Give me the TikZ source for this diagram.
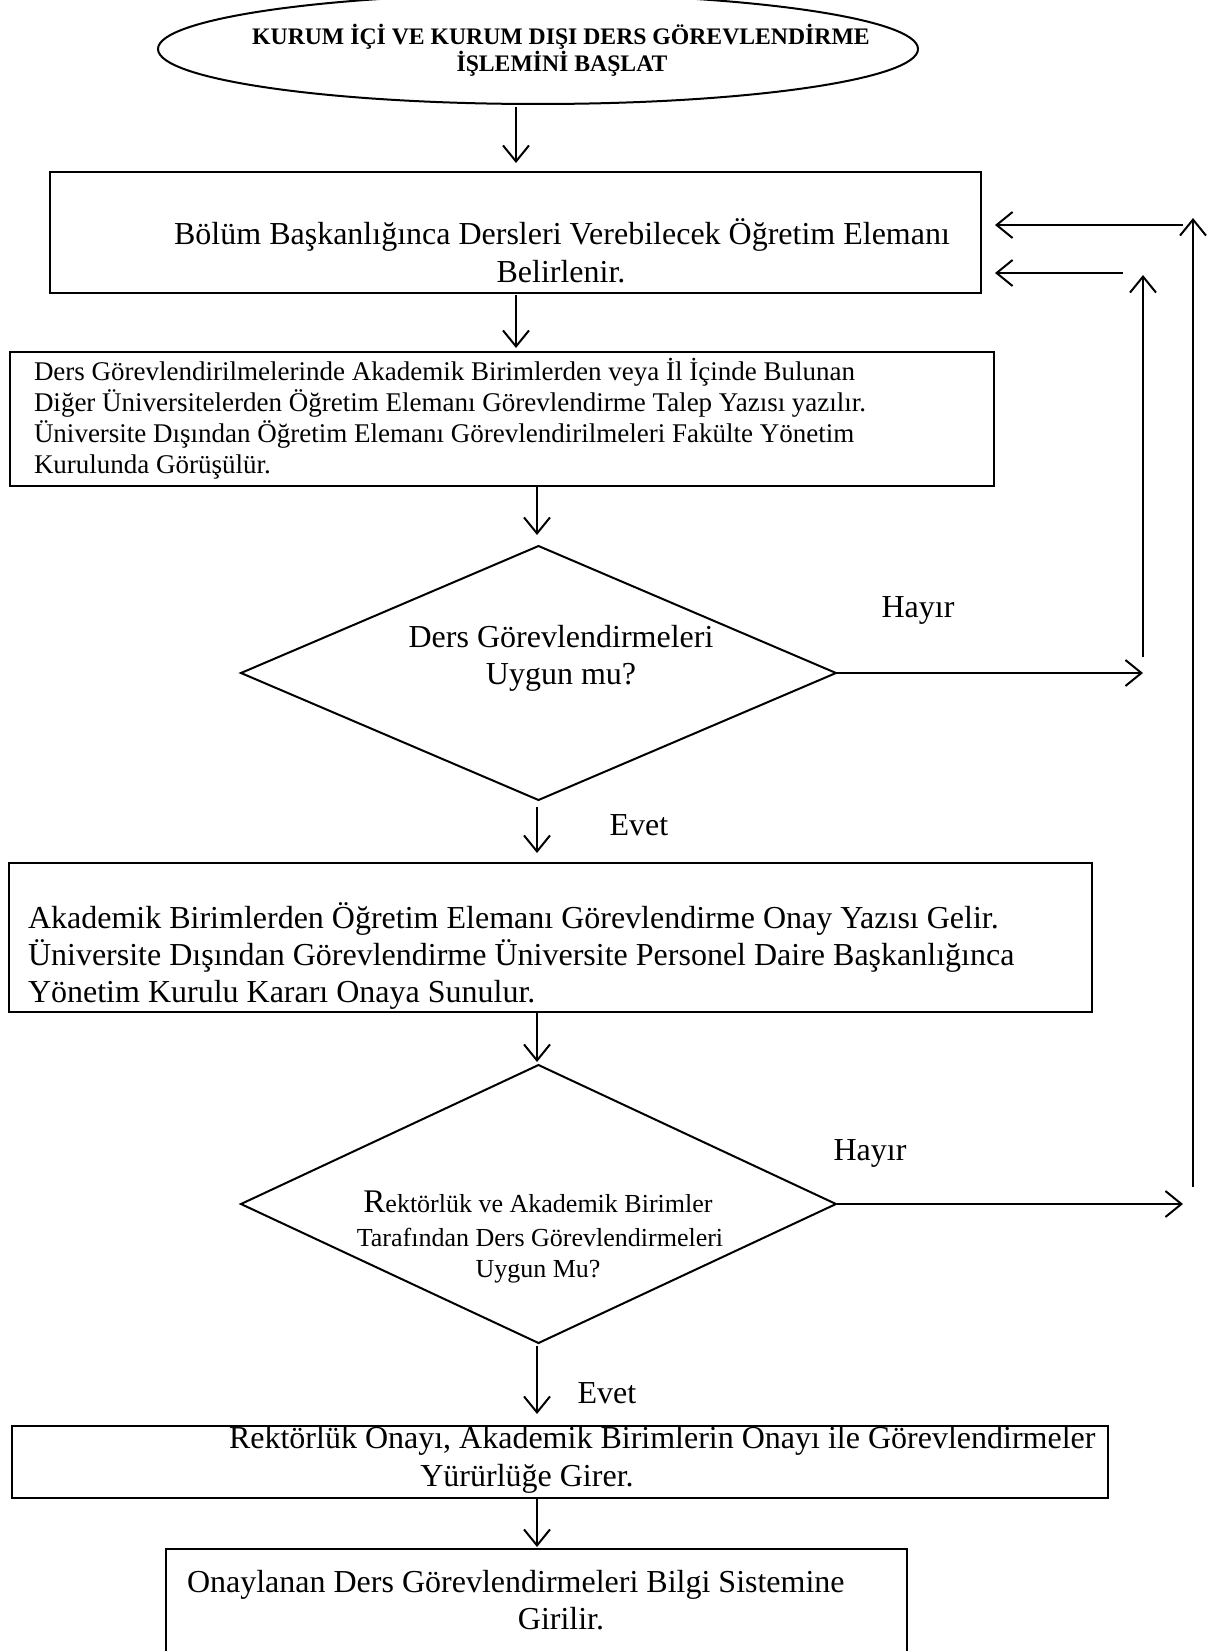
\documentclass[tikz,border=0pt]{standalone}
\usepackage{fontspec}
\setmainfont{Liberation Serif}
\usetikzlibrary{shapes.geometric,arrows.meta}

\begin{document}
\begin{tikzpicture}[x=1pt,y=-1pt,
  box/.style={draw, line width=2.6pt, rectangle, inner sep=0pt, outer sep=0pt},
  decision/.style={draw, line width=2pt, diamond, inner sep=0pt, outer sep=0pt},
  terminal/.style={draw, line width=2pt, ellipse, inner sep=0pt, outer sep=0pt},
  arr/.style={line width=2pt, -{Straight Barb[length=16pt,width=26pt,line width=2pt]}},
  big/.style={inner sep=0pt, outer sep=0pt, font=\fontsize{32}{37}\selectfont},
  mid/.style={inner sep=0pt, outer sep=0pt, font=\fontsize{27}{31}\selectfont},
  low/.style={inner sep=0pt, outer sep=0pt, font=\fontsize{26}{31}\selectfont},
  head/.style={inner sep=0pt, outer sep=0pt, font=\bfseries\fontsize{23.7}{27}\selectfont}]

\useasboundingbox (0,0) rectangle (1211,1651);

% ---- shapes ----
\node[terminal, minimum width=760pt, minimum height=110pt] (start) at (538,49) {};
\node[box, minimum width=931pt, minimum height=121pt] (b1) at (515.5,232.5) {};
\node[box, minimum width=984pt, minimum height=134pt] (b2) at (502,419) {};
\node[decision, minimum width=595pt, minimum height=254pt] (d1) at (538.5,673) {};
\node[box, minimum width=1083pt, minimum height=149pt] (b3) at (550.5,937.5) {};
\node[decision, minimum width=595pt, minimum height=278pt] (d2) at (538.5,1204) {};
\node[box, minimum width=1096pt, minimum height=72pt] (b4) at (560,1462) {};
\node[box, minimum width=741pt, minimum height=131pt] (b5) at (536.5,1614.5) {};

% ---- texts ----
\node[head, anchor=base] (t0a) at (561,45) {KURUM İÇİ VE KURUM DIŞI DERS GÖREVLENDİRME};
\node[head, anchor=base] (t0b) at (562,72) {İŞLEMİNİ BAŞLAT};

\node[big, anchor=base] (t1a) at (562,244) {Bölüm Başkanlığınca Dersleri Verebilecek Öğretim Elemanı};
\node[big, anchor=base] (t1b) at (561,282) {Belirlenir.};

\node[mid, anchor=base west] (t2a) at (34,380) {Ders Görevlendirilmelerinde Akademik Birimlerden veya İl İçinde Bulunan};
\node[mid, anchor=base west] (t2b) at (34,411) {Diğer Üniversitelerden Öğretim Elemanı Görevlendirme Talep Yazısı yazılır.};
\node[mid, anchor=base west] (t2c) at (34,442) {Üniversite Dışından Öğretim Elemanı Görevlendirilmeleri Fakülte Yönetim};
\node[mid, anchor=base west] (t2d) at (34,473) {Kurulunda Görüşülür.};

\node[big, anchor=base] (q1a) at (561,647) {Ders Görevlendirmeleri};
\node[big, anchor=base] (q1b) at (561,684) {Uygun mu?};
\node[big, anchor=base] (no1) at (918,617) {Hayır};
\node[big, anchor=base] (yes1) at (639,835) {Evet};

\node[big, anchor=base west] (t3a) at (28,928) {Akademik Birimlerden Öğretim Elemanı Görevlendirme Onay Yazısı Gelir.};
\node[big, anchor=base west] (t3b) at (28,965) {Üniversite Dışından Görevlendirme Üniversite Personel Daire Başkanlığınca};
\node[big, anchor=base west] (t3c) at (28,1002) {Yönetim Kurulu Kararı Onaya Sunulur.};

\node[low, anchor=base] (q2a) at (538,1212) {{\fontsize{33}{37}\selectfont R}ektörlük ve Akademik Birimler};
\node[low, anchor=base] (q2b) at (540,1246) {Tarafından Ders Görevlendirmeleri};
\node[low, anchor=base] (q2c) at (538,1277) {Uygun Mu?};
\node[big, anchor=base] (no2) at (870,1160) {Hayır};
\node[big, anchor=base] (yes2) at (607,1403) {Evet};

\node[big, anchor=base west] (t4a) at (229,1448) {Rektörlük Onayı, Akademik Birimlerin Onayı ile Görevlendirmeler};
\node[big, anchor=base] (t4b) at (527,1486) {Yürürlüğe Girer.};

\node[big, anchor=base west] (t5a) at (187,1592) {Onaylanan Ders Görevlendirmeleri Bilgi Sistemine};
\node[big, anchor=base] (t5b) at (561,1629) {Girilir.};

% ---- columns and loop-back points ----
\coordinate (colA) at (516,0);
\coordinate (colB) at (537,0);
\coordinate (innerBot) at (1143,657);
\coordinate (innerTop) at (1143,275);
\coordinate (innerTail) at (1123,273);
\coordinate (outerBot) at (1193,1187);
\coordinate (outerTop) at (1193,218);
\coordinate (outerTail) at (1183,225);

% ---- main flow ----
\draw[arr, shorten <=3pt, shorten >=9pt] (start.south -| colA) -- (b1.north -| colA);
\draw[arr, shorten <=2pt, shorten >=4pt] (b1.south -| colA) -- (b2.north -| colA);
\draw[arr, shorten >=11pt] (b2.south -| colB) -- (d1.north -| colB);
\draw[arr, shorten <=7pt, shorten >=10pt] (d1.south -| colB) -- (b3.north -| colB);
\draw[arr, shorten >=3pt] (b3.south -| colB) -- (d2.north -| colB);
\draw[arr, shorten <=3pt, shorten >=12pt] (d2.south -| colB) -- (b4.north -| colB);
\draw[arr, shorten >=2pt] (b4.south -| colB) -- (b5.north -| colB);

% ---- first "Hayır" loop ----
\draw[arr, shorten <=1pt] (d1.east) -- (innerBot |- d1.east);
\draw[arr] (innerBot) -- (innerTop);
\draw[arr, shorten >=14pt] (innerTail) -- (b1.east |- innerTail);

% ---- second "Hayır" loop ----
\draw[arr, shorten <=1pt] (d2.east) -- (outerTail |- d2.east);
\draw[arr] (outerBot) -- (outerTop);
\draw[arr, shorten >=14pt] (outerTail) -- (b1.east |- outerTail);
\end{tikzpicture}
\end{document}
